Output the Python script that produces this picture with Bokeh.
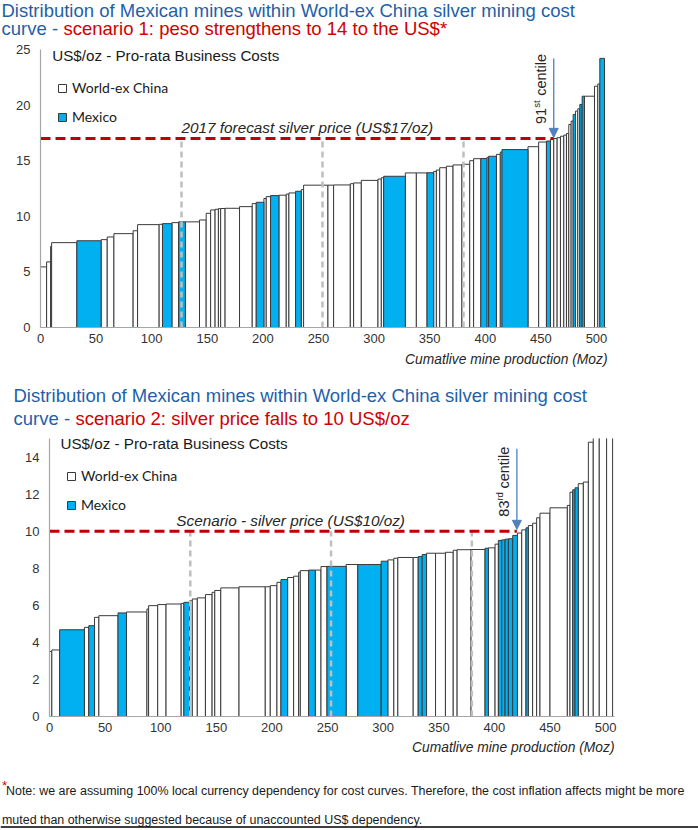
import numpy as np
from bokeh.plotting import figure
from bokeh.models import (ColumnDataSource, Range1d, Label, Arrow, NormalHead,
                          Legend, LegendItem, FixedTicker, Span)
from bokeh.embed import file_html
from bokeh.resources import INLINE

# ---------------- data ----------------
# Scenario 1 (peso strengthens): mine production (Moz), cost (US$/oz), Mexican flag
s1_width = [5.5, 3.6, 0.9, 22.7, 21.8, 5.5, 6.0, 17.3, 4.0, 19.4, 3.0, 8.5, 6.0, 6.1,
            12.7, 6.0, 4.0, 4.0, 3.0, 2.0, 4.0, 13.0, 11.4, 3.6, 6.9, 2.1, 3.9, 7.5,
            6.6, 2.4, 6.0, 5.1, 2.1, 21.9, 5.1, 15.0, 3.0, 6.9, 15.0, 3.0, 2.1, 19.5,
            9.9, 9.6, 6.0, 2.4, 3.0, 6.0, 6.0, 8.0, 7.0, 3.5, 6.5, 5.5, 1.5, 7.0,
            3.5, 1.5, 23.4, 9.6, 7.0, 3.6, 3.0, 3.0, 3.0, 3.0, 2.4, 2.1, 2.1, 1.8,
            2.1, 2.1, 1.8, 2.1, 2.1, 9.0, 3.0, 1.8, 4.2]
s1_cost = [5.45, 5.9, 7.3, 7.63, 7.8, 7.9, 8.14, 8.44, 8.7, 9.25, 9.28, 9.34, 9.43, 9.5,
           9.5, 9.67, 10.27, 10.57, 10.63, 10.69, 10.7, 10.72, 10.87, 11.14, 11.26, 11.6, 11.77, 11.86,
           11.9, 12.0, 12.1, 12.25, 12.4, 12.8, 12.8, 12.82, 12.93, 13.0, 13.23, 13.35, 13.47, 13.6,
           13.9, 13.9, 13.92, 14.04, 14.16, 14.37, 14.5, 14.62, 14.68, 15.0, 15.18, 15.2, 15.3, 15.4,
           15.57, 15.78, 16.0, 16.26, 16.68, 16.77, 16.9, 17.0, 17.07, 17.2, 17.3, 17.45, 18.26, 18.56,
           19.16, 19.46, 19.67, 20.06, 20.8, 20.8, 21.7, 21.9, 24.2]
s1_mexico = [0, 0, 0, 0, 1, 0, 0, 0, 0, 0, 0, 1, 0, 1,
             0, 0, 0, 0, 0, 0, 0, 0, 0, 0, 1, 0, 0, 1,
             0, 0, 0, 1, 0, 0, 0, 0, 0, 0, 0, 0, 0, 1,
             0, 0, 1, 0, 0, 0, 0, 0, 0, 0, 0, 1, 0, 1,
             0, 0, 1, 0, 0, 1, 0, 0, 0, 0, 0, 0, 0, 0,
             1, 0, 0, 1, 1, 0, 0, 0, 1]

# Scenario 2 (silver price falls)
s2_width = [2.1, 7.0, 22.3, 3.9, 5.2, 3.9, 17.2, 7.6, 18.4, 1.5, 8.2, 7.5, 13.6, 2.4,
            5.2, 2.4, 4.5, 7.3, 6.0, 2.4, 5.4, 16.4, 23.6, 4.5, 6.0, 3.6, 6.0, 5.4,
            4.5, 1.5, 7.5, 6.0, 5.1, 5.4, 17.2, 10.5, 21.0, 6.0, 5.4, 3.6, 13.8, 4.5,
            3.6, 3.9, 8.1, 8.9, 7.0, 3.5, 12.5, 12.6, 3.0, 6.0, 3.0, 3.0, 3.0, 3.0,
            3.9, 4.2, 3.9, 3.8, 2.1, 3.9, 3.6, 3.0, 9.0, 15.6, 2.4, 2.4, 2.1, 2.9,
            4.6, 4.5, 4.4, 5.4, 6.6, 5.4]
s2_cost = [3.51, 3.59, 4.68, 4.81, 4.9, 5.35, 5.44, 5.59, 5.64, 5.8, 5.98, 6.04, 6.07, 6.1,
           6.16, 6.25, 6.34, 6.4, 6.58, 6.7, 6.8, 6.94, 7.0, 7.0, 7.06, 7.24, 7.39, 7.5,
           7.57, 7.78, 7.87, 7.9, 7.9, 8.09, 8.1, 8.2, 8.2, 8.38, 8.45, 8.54, 8.58, 8.58,
           8.63, 8.74, 8.81, 8.81, 8.86, 8.97, 9.0, 9.01, 9.08, 9.1, 9.3, 9.5, 9.53, 9.57,
           9.59, 9.77, 9.9, 10.07, 10.18, 10.3, 10.43, 10.72, 10.97, 11.26, 11.39, 12.1, 12.23, 12.34,
           12.56, 12.65, 14.8, 16.5, 18.0, 20.0]
s2_mexico = [0, 0, 1, 0, 1, 0, 0, 1, 0, 0, 0, 0, 0, 0,
             1, 0, 0, 0, 0, 0, 0, 0, 0, 0, 0, 0, 1, 0,
             0, 0, 0, 1, 0, 0, 1, 0, 1, 1, 0, 0, 0, 0,
             1, 1, 0, 0, 0, 0, 0, 0, 1, 0, 0, 1, 1, 1,
             1, 1, 0, 0, 1, 0, 0, 0, 0, 0, 0, 0, 1, 1,
             0, 0, 0, 0, 0, 0]

s1_price = 17
s2_price = 10
s1_centile = 91
s2_centile = 83
s1_price_text = "2017 forecast silver price (US$17/oz)"
s2_price_text = "Scenario - silver price (US$10/oz)"
x_ticks = [0, 50, 100, 150, 200, 250, 300, 350, 400, 450, 500]
s1_y_ticks = [0, 5, 10, 15, 20, 25]
s2_y_ticks = [0, 2, 4, 6, 8, 10, 12, 14]
title_line1 = "Distribution of Mexican mines within World-ex China silver mining cost"
title_blue2 = "curve -"
s1_title_red = "scenario 1: peso strengthens to 14 to the US$*"
s2_title_red = "scenario 2: silver price falls to 10 US$/oz"
y_caption = "US$/oz - Pro-rata Business Costs"
x_caption = "Cumatlive mine production (Moz)"
legend_labels = ["World-ex China", "Mexico"]
note1 = ("Note: we are assuming 100% local currency dependency for cost curves. "
         "Therefore, the cost inflation affects might be more")
note2 = "muted than otherwise suggested because of unaccounted US$ dependency."

# ---------------- styles ----------------
BLUE_T = "#1f5fa8"
RED_T = "#d00000"
MEX = "#00b0f0"
EDGE = "#3a3a3a"
ARROW_C = "#4f81bd"
FONT = "Liberation Sans"
TXT = "#262626"
W = 698


def suffix(n):
    if n % 100 in (11, 12, 13):
        return "th"
    return {1: "st", 2: "nd", 3: "rd"}.get(n % 10, "th")


def text_fig(h):
    f = figure(width=W, height=h, x_range=Range1d(0, W), y_range=Range1d(h, 0),
               x_axis_type=None, y_axis_type=None, toolbar_location=None,
               output_backend="svg", min_border=0)
    f.outline_line_color = None
    return f


def lab(f, x, y, text, size, color=TXT, **kw):
    f.add_layout(Label(x=x, y=y, text=text, text_font=kw.pop("font", FONT),
                       text_font_size=f"{size}px", text_color=color,
                       text_baseline="middle", **kw))


def titles(f, y1, y2, x0, red):
    lab(f, x0, y1, title_line1, 18.5, BLUE_T)
    lab(f, x0, y2, title_blue2, 18.5, BLUE_T)
    lab(f, x0 + 62, y2, red, 18.5, RED_T)


def chart(width, cost, mexico, price, centile, price_text, yticks, ymax, xmax,
          h, top, left, right, bottom, price_lab_dx, legend_y, arrow_top, cap_xy):
    w = np.array(width, dtype=float)
    c = np.array(cost, dtype=float)
    m = np.array(mexico, dtype=bool)
    rgt = np.cumsum(w)
    lft = rgt - w
    total = rgt[-1]
    frame_h = h - top - bottom
    py = frame_h / ymax

    p = figure(width=W, height=h, output_backend="svg", toolbar_location=None,
               x_range=Range1d(0, xmax), y_range=Range1d(0, ymax),
               min_border_left=left, min_border_right=right,
               min_border_top=top, min_border_bottom=bottom)
    p.outline_line_color = None
    p.grid.grid_line_color = None
    for ax in (p.xaxis, p.yaxis):
        ax.axis_line_color = "#a6a6a6"
        ax.axis_line_width = 1.2
        ax.major_tick_line_color = None
        ax.minor_tick_line_color = None
        ax.major_tick_in = 0
        ax.major_tick_out = 0
        ax.major_label_text_font = FONT
        ax.major_label_text_font_size = "13px"
        ax.major_label_text_color = "#333333"
    p.xaxis.ticker = FixedTicker(ticks=x_ticks)
    p.yaxis.ticker = FixedTicker(ticks=yticks)
    p.xaxis.major_label_standoff = 6
    p.yaxis.major_label_standoff = 10

    src_w = ColumnDataSource(dict(left=lft[~m], right=rgt[~m], top=c[~m]))
    src_m = ColumnDataSource(dict(left=lft[m], right=rgt[m], top=c[m]))
    rw = p.quad(left="left", right="right", top="top", bottom=0, source=src_w,
                fill_color="white", line_color=EDGE, line_width=1)
    rm = p.quad(left="left", right="right", top="top", bottom=0, source=src_m,
                fill_color=MEX, line_color=EDGE, line_width=1)

    quart = total * np.array([0.25, 0.5, 0.75])
    p.segment(x0=quart, y0=0, x1=quart, y1=price, line_color="#bfbfbf",
              line_width=2.5, line_dash="6 4")
    cx = total * centile / 100.0
    p.segment(x0=[0], y0=[price], x1=[cx], y1=[price], line_color="#c00000",
              line_width=3, line_dash="10 5")
    p.add_layout(Arrow(end=NormalHead(size=9, fill_color=ARROW_C, line_color=ARROW_C),
                       x_start=cx, y_start=arrow_top, x_end=cx, y_end=price + 0.1,
                       line_color=ARROW_C, line_width=1.3))

    base_y = price + 14.5 / py
    w_num = 16.1 / py
    w_suf = 8.0 / py
    for txt, yy, fs, dx in [(str(centile), base_y, 14.5, -13),
                            (suffix(centile), base_y + w_num, 9.5, -17),
                            ("centile", base_y + w_num + w_suf + 4.0 / py, 14.5, -13)]:
        p.add_layout(Label(x=cx, y=yy, x_offset=dx, text=txt, angle=np.pi / 2,
                           text_font=FONT, text_font_size=f"{fs}px", text_color=TXT,
                           text_align="left", text_baseline="middle"))

    p.add_layout(Label(x=quart[0], y=price + 10.7 / py, x_offset=price_lab_dx,
                       text=price_text, text_font=FONT, text_font_style="italic",
                       text_font_size="15.3px", text_color=TXT, text_baseline="middle"))
    p.add_layout(Label(x=cap_xy[0], y=cap_xy[1], text=y_caption, text_font=FONT,
                       text_font_size="15.2px", text_color="#1a1a1a", text_baseline="middle"))

    leg = Legend(items=[LegendItem(label=legend_labels[0], renderers=[rw]),
                        LegendItem(label=legend_labels[1], renderers=[rm])],
                 location=(17, legend_y), glyph_width=10, glyph_height=10,
                 label_height=10, spacing=12, padding=0, margin=0, label_standoff=5,
                 label_text_font="Lato", label_text_font_size="14px",
                 label_text_color="#1a1a1a", border_line_color=None,
                 background_fill_alpha=0)
    p.add_layout(leg)
    return p


# page blocks (stacked): t1 | chart 1 | t2 | chart 2 | t3
t1 = text_fig(40)
titles(t1, 9.5, 28, 1, s1_title_red)

p1 = chart(s1_width, s1_cost, s1_mexico, s1_price, s1_centile, s1_price_text,
           s1_y_ticks, 25, 509, 309, 9, 40, 92, 22, 0, 202, 24.2, (10.5, 24.46))

t2 = text_fig(87)
lab(t2, 607, 10, x_caption, 13.8, text_align="right", text_font_style="italic")
titles(t2, 46, 68.5, 13, s2_title_red)

p2 = chart(s2_width, s2_cost, s2_mexico, s2_price, s2_centile, s2_price_text,
           s2_y_ticks, 15, 508, 302, 2, 49, 84, 22, -14, 203, 14.45, (9.9, 14.72))

t3 = text_fig(91)
lab(t3, 614, 9, x_caption, 13.8, text_align="right", text_font_style="italic")
lab(t3, 1.5, 47, "*", 13.5, "#e00000")
lab(t3, 5.5, 52, note1, 12.45, "#1a1a1a")
lab(t3, 1.5, 81, note2, 12.45, "#1a1a1a")
t3.add_layout(Span(location=88.5, dimension="width", line_color="black", line_width=1.5))

open("out.html", "w").write(file_html([t1, p1, t2, p2, t3], INLINE))
